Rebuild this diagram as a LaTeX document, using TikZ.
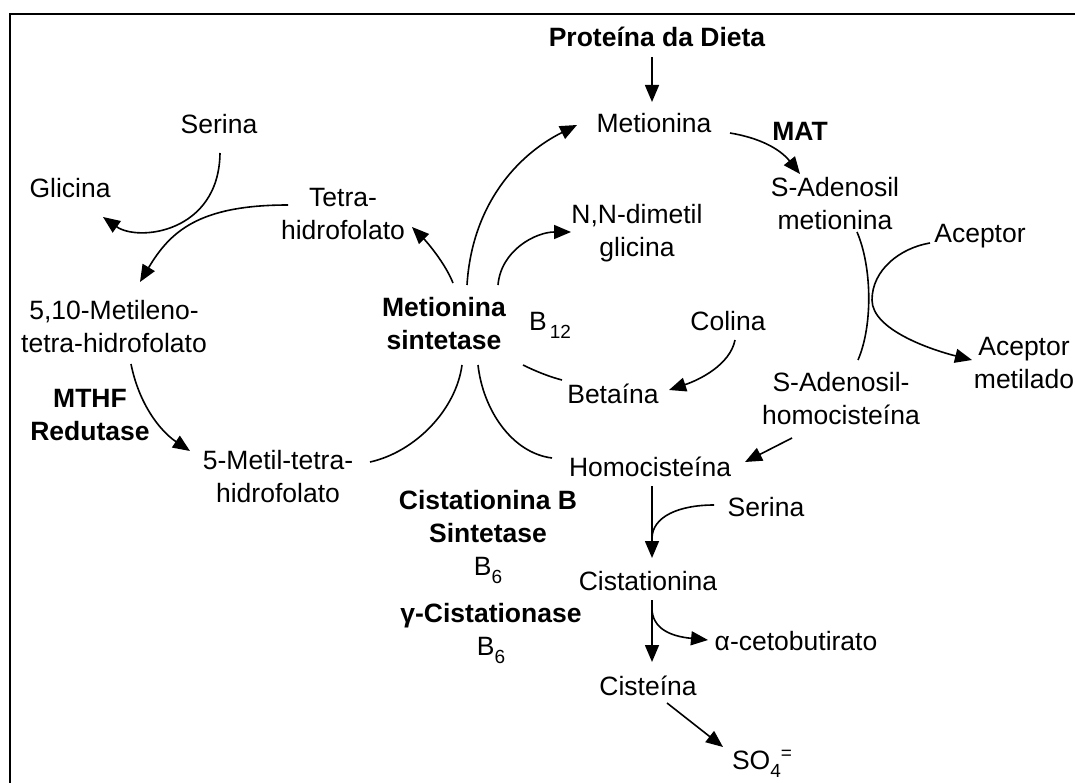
\documentclass[tikz,border=0pt]{standalone}
\usepackage{fontspec}
\setmainfont{Liberation Sans}
\usetikzlibrary{arrows.meta}
\newcommand{\lowsub}[1]{\raisebox{-8pt}{\fontsize{19}{19}\selectfont #1}}
\newcommand{\highsup}[1]{\raisebox{10pt}{\fontsize{19}{19}\selectfont #1}}

\begin{document}
\begin{tikzpicture}[x=1pt,y=-1pt,
        lbl/.style={font=\fontsize{26.5}{33}\selectfont, align=center, inner sep=0pt},
        enz/.style={lbl, font=\fontsize{26.5}{33}\selectfont\bfseries},
        link/.style={line width=1.6pt},
        arr/.style={link, -{Triangle[length=17pt,width=14pt]}}]
        \useasboundingbox (0,0) rectangle (1075,783);
        \draw [line width=2pt] (1075,14) -- (10,14) -- (10,783);
        \node [enz] (diet) at (657,37) {Proteína da Dieta};
        \node [lbl] (met) at (654,123) {Metionina};
        \node [enz] (mat) at (800,131) {MAT};
        \node [lbl] (sam) at (835,204) {S-Adenosil\\metionina};
        \node [lbl] (nndmg) at (637,233) {N,N-dimetil\\glicina};
        \node [lbl] (acc) at (980,236) {Aceptor};
        \node [lbl] (accm) at (1024,363) {Aceptor\\metilado};
        \node [lbl] (sah) at (841,399) {S-Adenosil-\\homocisteína};
        \node [lbl] (colina) at (728,321) {Colina};
        \node [lbl] (b12) at (550,325) {B\kern3pt\lowsub{12}};
        \node [lbl] (bet) at (613,394) {Betaína};
        \node [enz] (ms) at (444,324) {Metionina\\sintetase};
        \node [lbl] (homo) at (650,467) {Homocisteína};
        \node [lbl] (thf) at (343,214) {Tetra-\\hidrofolato};
        \node [lbl] (sera) at (219,124) {Serina};
        \node [lbl] (gli) at (70,188) {Glicina};
        \node [lbl] (mthf) at (114,327) {5,10-Metileno-\\tetra-hidrofolato};
        \node [enz] (red) at (90,415) {MTHF\\Redutase};
        \node [lbl] (mtf) at (278,477) {5-Metil-tetra-\\hidrofolato};
        \node [lbl] (cbs) at (488,537) {\textbf{Cistationina B}\\\textbf{Sintetase}\\B\lowsub{6}};
        \node [lbl] (gcs) at (491,633) {\textbf{γ-Cistationase}\\B\lowsub{6}};
        \node [lbl] (serb) at (766,507) {Serina};
        \node [lbl] (cist) at (648,581) {Cistationina};
        \node [lbl] (akb) at (796,641) {α-cetobutirato};
        \node [lbl] (cys) at (648,686) {Cisteína};
        \node [lbl] (so4) at (762,764) {SO\lowsub{4}\highsup{=}};
        \coordinate (xmeth) at (872,300);
        \draw [arr] ([shift={(-5,20)}]diet.center) -- ([shift={(-2,-21)}]met.center);
        \draw [arr] ([shift={(76,10)}]met.center) .. controls +(30,5) and +(-20,-25) .. ([shift={(-35,-30)}]sam.center);
        \draw [arr] ([shift={(23,-39)}]ms.center) .. controls +(5,-80) and +(-60,30) .. ([shift={(-77,2)}]met.center);
        \draw [arr] ([shift={(9,-41)}]ms.center) .. controls +(-8,-20) and +(15,15) .. ([shift={(69,13)}]thf.center);
        \draw [arr] ([shift={(54,-39)}]ms.center) .. controls +(3,-35) and +(-35,0) .. ([shift={(-66,-1)}]nndmg.center);
        \draw [link] ([shift={(92,-15)}]mtf.center) .. controls +(45,-10) and +(-6,45) .. ([shift={(18,41)}]ms.center);
        \draw [link] ([shift={(34,41)}]ms.center) .. controls +(5,45) and +(-40,-5) .. ([shift={(-98,-9)}]homo.center);
        \draw [link] ([shift={(-51,-14)}]bet.center) .. controls +(-12,-3) and +(12,6) .. ([shift={(79,41)}]ms.center);
        \draw [arr] ([shift={(7,19)}]colina.center) .. controls +(-5,25) and +(30,-10) .. ([shift={(56,-4)}]bet.center);
        \draw [link] ([shift={(22,28)}]sam.center) .. controls +(15,35) and +(15,-35) .. ([shift={(17,-39)}]sah.center);
        \draw [arr] ([shift={(-50,7)}]acc.center) .. controls +(-30,5) and +(0,-30) .. (xmeth)
                .. controls +(0,30) and +(-40,-10) .. ([shift={(-52,-3)}]accm.center);
        \draw [arr] ([shift={(-49,39)}]sah.center) -- ([shift={(95,-5)}]homo.center);
        \draw [arr] ([shift={(1,29)}]sera.center) .. controls +(-1,80) and +(35,25) .. ([shift={(33,29)}]gli.center);
        \draw [arr] ([shift={(-55,-9)}]thf.center) .. controls +(-90,0) and +(30,-50) .. ([shift={(26,-45)}]mthf.center);
        \draw [arr] ([shift={(17,37)}]mthf.center) .. controls +(8,40) and +(-30,-20) .. ([shift={(-88,-26)}]mtf.center);
        \draw [arr] ([shift={(2,19)}]homo.center) -- coordinate[pos=0.73] (jser) ([shift={(4,-23)}]cist.center);
        \draw [link] ([shift={(-52,-2)}]serb.center) .. controls +(-35,0) and +(0,-22) .. (jser);
        \draw [arr] ([shift={(4,19)}]cist.center) -- coordinate[pos=0.17] (jakb) ([shift={(4,-24)}]cys.center);
        \draw [arr] (jakb) .. controls +(2,22) and +(-30,-3) .. ([shift={(-88,-1)}]akb.center);
        \draw [arr] ([shift={(19,17)}]cys.center) -- ([shift={(-39,-17)}]so4.center);
\end{tikzpicture}
\end{document}
